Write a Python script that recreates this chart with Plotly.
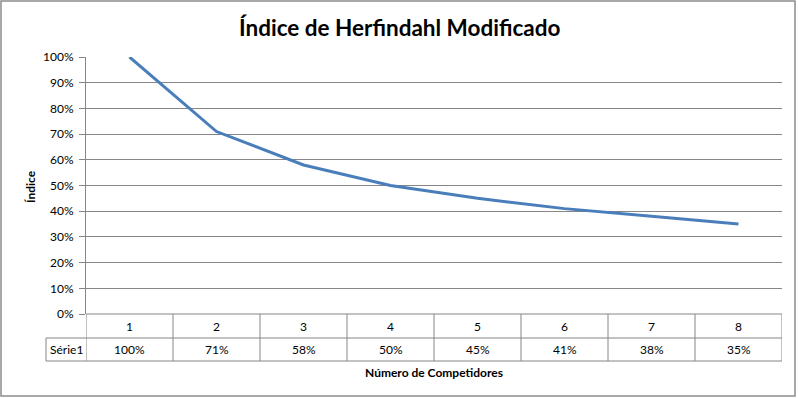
import plotly.graph_objects as go

categories = [1, 2, 3, 4, 5, 6, 7, 8]
values = [1.00, 0.71, 0.58, 0.50, 0.45, 0.41, 0.38, 0.35]
series_name = "Série1"
y_ticks = [0, 0.1, 0.2, 0.3, 0.4, 0.5, 0.6, 0.7, 0.8, 0.9, 1.0]
y_tick_labels = ["0%", "10%", "20%", "30%", "40%", "50%", "60%", "70%", "80%", "90%", "100%"]

W, H = 798, 398
L, R, T, B = 86, 16, 57, 84
ph = H - T - B
pw = W - L - R
def py(p):
    return (H - B - p) / ph
def px(p):
    return (p - L) / pw

FONT = "Lato"
grid = "#868686"

fig = go.Figure()
fig.add_trace(go.Scatter(x=categories, y=values, mode="lines",
                         line=dict(color="#4a7ebb", width=3), showlegend=False,
                         cliponaxis=False, hoverinfo="skip"))

shapes = []
shapes.append(dict(type="rect", xref="paper", yref="paper", x0=px(1), x1=px(795), y0=py(396), y1=py(1),
                   line=dict(color="#8c8c8c", width=1.5), layer="below"))
r0, r1, r2 = py(314), py(338), py(361)
shapes.append(dict(type="line", xref="paper", yref="paper", x0=0, x1=1, y0=r0, y1=r0, line=dict(color=grid, width=1)))
for yy in (r1, r2):
    shapes.append(dict(type="line", xref="paper", yref="paper", x0=px(46), x1=1, y0=yy, y1=yy, line=dict(color=grid, width=1)))
shapes.append(dict(type="line", xref="paper", yref="paper", x0=px(46), x1=px(46), y0=r1, y1=r2, line=dict(color=grid, width=1)))
for i in range(len(categories) + 1):
    xv = categories[0] - 0.5 + i
    shapes.append(dict(type="line", xref="x", yref="paper", x0=xv, x1=xv, y0=r0, y1=r2, line=dict(color=grid, width=1)))

annotations = []
tf = dict(family=FONT, size=12, color="#000000")
for c, v in zip(categories, values):
    annotations.append(dict(x=c, y=(r0 + r1) / 2, xref="x", yref="paper", text=str(c), showarrow=False, font=tf,
                            xanchor="center", yanchor="middle"))
    annotations.append(dict(x=c, y=(r1 + r2) / 2, xref="x", yref="paper", text=f"{round(v*100)}%", showarrow=False, font=tf,
                            xanchor="center", yanchor="middle"))
annotations.append(dict(x=px(66), y=(r1 + r2) / 2, xref="paper", yref="paper", text=series_name, showarrow=False, font=tf,
                        xanchor="center", yanchor="middle"))
annotations.append(dict(x=px(434), y=py(372), xref="paper", yref="paper", text="<b>Número de Competidores</b>", showarrow=False,
                        font=dict(family=FONT, size=12, color="#000000"), xanchor="center", yanchor="middle"))
annotations.append(dict(x=px(30), y=py(187), xref="paper", yref="paper", text="<b>Índice</b>", showarrow=False, textangle=-90,
                        font=dict(family=FONT, size=12, color="#000000"), yanchor="middle", xanchor="center"))
annotations.append(dict(x=px(399), y=py(28), xref="paper", yref="paper", text="<b>Índice de Herfindahl Modificado</b>", showarrow=False,
                        font=dict(family=FONT, size=22.5, color="#000000"), xanchor="center", yanchor="middle"))

fig.update_layout(
    width=W, height=H, margin=dict(l=L, r=R, t=T, b=B, autoexpand=False),
    paper_bgcolor="white", plot_bgcolor="white",
    xaxis=dict(range=[0.5, 8.5], showgrid=False, showticklabels=False, zeroline=False, showline=False, ticks=""),
    yaxis=dict(range=[0, 1], tickvals=y_ticks, ticktext=y_tick_labels, showgrid=True, gridcolor=grid, gridwidth=1,
               zeroline=False, showline=True, linecolor=grid, linewidth=1, ticks="outside", ticklen=6, tickcolor=grid,
               tickfont=dict(family=FONT, size=12, color="#000000"), ticklabelstandoff=3),
    shapes=shapes, annotations=annotations,
)
fig.write_html("out.html", config={"displayModeBar": False},
               post_script="document.body.style.margin='0';document.body.style.padding='0';")
